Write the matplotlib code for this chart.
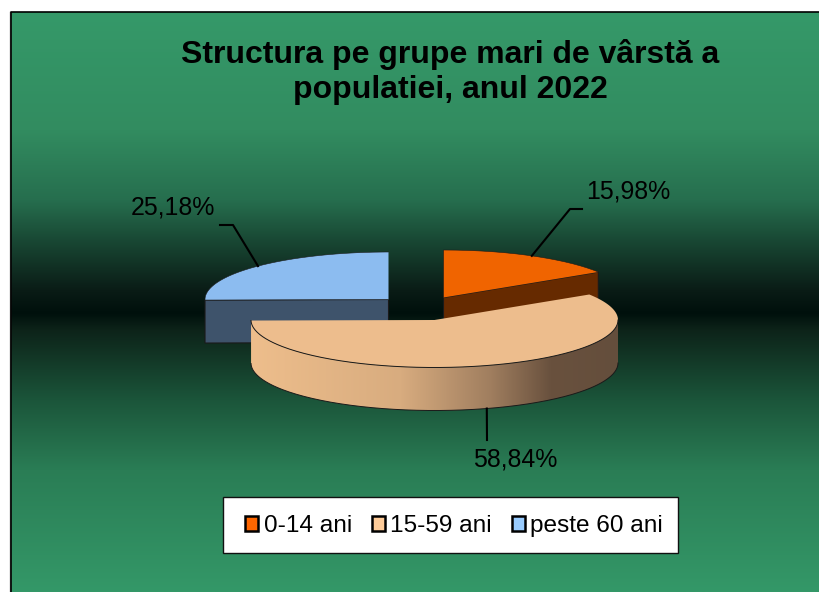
"""
Structura populatiei pe grupe de varsta - pie 3D
"""

import numpy as np
import matplotlib
matplotlib.use("Agg")
import matplotlib.pyplot as plt
from matplotlib.patches import Patch, PathPatch, Polygon, Rectangle
from matplotlib.path import Path

categories = ["0-14 ani", "15-59 ani", "peste 60 ani"]
values = [15.98, 58.84, 25.18]
title = "Structura pe grupe mari de vârstă a\npopulatiei, anul 2022"

plt.rcParams["font.family"] = ["Liberation Sans", "DejaVu Sans"]

# Pie shape, in pixels of the picture
RX = 183.5
RY = 47.5
DEPTH = 43
CENTERS = [(443.5, 297.5), (434.5, 320.0), (388.5, 299.5)]
TOP_COLORS = ["#f06400", "#edbd8d", "#8cbcf0"]
SIDE_COLORS = ["#662a00", None, "#3e536b"]
LEGEND_COLORS = ["#ff6600", "#ffcc99", "#99ccff"]
LABEL_POS = [(628, 192), (515, 459), (173, 207)]
LEADER_BEND = [[(570, 209), (582, 209)], [(487, 440)], [(233, 225), (220, 225)]]
EDGE = "#1a1a1a"


def rim(center, t0, t1, drop=0):
    # points on the ellipse, t clockwise from the top, in degrees
    t = np.radians(np.linspace(t0, t1, 200))
    return np.column_stack([center[0] + RX * np.sin(t),
                            center[1] - RY * np.cos(t) + drop])


def draw_background(ax):
    stops_y = [12, 130, 200, 240, 290, 313, 330, 400, 470, 592]
    stops_r = [53, 50, 38, 25, 10, 0, 13, 27, 42, 52]
    stops_g = [153, 140, 110, 72, 28, 16, 35, 85, 125, 152]
    stops_b = [105, 96, 78, 52, 22, 12, 25, 58, 85, 104]
    ys = np.arange(12, 593)
    grad = np.column_stack([np.interp(ys, stops_y, stops_r),
                            np.interp(ys, stops_y, stops_g),
                            np.interp(ys, stops_y, stops_b)]) / 255
    ax.imshow(grad[:, np.newaxis, :], extent=(10, 819, 592, 12),
              aspect="auto", zorder=0)
    ax.plot([9.5, 9.5], [592, 12], color="#888888", lw=1.0, zorder=1)
    ax.plot([10.5, 10.5, 819], [592, 12, 12], color="black", lw=1.2, zorder=1)


def draw_peach_side(ax, center, t0, t1):
    front = np.linspace(max(t0, 90), t1, 200)
    upper = rim(center, front[0], front[-1])
    lower = rim(center, front[0], front[-1], DEPTH)
    pts = np.vstack([upper, lower[::-1]])
    stops_x = [250, 400, 490, 550, 618]
    stops_r = [238, 216, 160, 105, 100]
    stops_g = [190, 172, 126, 81, 78]
    stops_b = [140, 127, 95, 62, 60]
    xs = np.arange(250, 620)
    grad = np.column_stack([np.interp(xs, stops_x, stops_r),
                            np.interp(xs, stops_x, stops_g),
                            np.interp(xs, stops_x, stops_b)]) / 255
    im = ax.imshow(grad[np.newaxis, :, :], extent=(250, 620, 420, 300),
                   aspect="auto", zorder=3)
    clip = PathPatch(Path(np.vstack([pts, pts[:1]])), transform=ax.transData)
    im.set_clip_path(clip)
    ax.plot(lower[:, 0], lower[:, 1], color=EDGE, lw=0.7, zorder=3)


def draw_flat_side(ax, center, t1, color, z):
    # cut face from the rim end to the apex, pushed down by the depth
    end = rim(center, t1, t1)[0]
    pts = [end, center, (center[0], center[1] + DEPTH), (end[0], end[1] + DEPTH)]
    ax.add_patch(Polygon(pts, closed=True, fc=color, ec=EDGE, lw=0.8, zorder=z))


def main():
    fig = plt.figure(figsize=(8.19, 5.92), dpi=100, facecolor="white")
    ax = fig.add_axes([0, 0, 1, 1])
    draw_background(ax)

    # Slices run clockwise from the top
    starts = np.cumsum([0] + values[:-1]) * 3.6
    ends = np.cumsum(values) * 3.6

    for i, (t0, t1) in enumerate(zip(starts, ends)):
        center = CENTERS[i]
        z = 3 if i == 1 else 2
        if i == 1:
            draw_peach_side(ax, center, t0, t1)
        else:
            draw_flat_side(ax, center, t1 if i == 0 else t0, SIDE_COLORS[i], z)
        top = np.vstack([center, rim(center, t0, t1)])
        ax.add_patch(Polygon(top, closed=True, fc=TOP_COLORS[i], ec="none", zorder=z))
        if i == 1:
            # only the front of the peach top has a dark line
            arc = rim(center, 90, t1)
            ax.plot(arc[:, 0], arc[:, 1], color=EDGE, lw=0.7, zorder=z)
        else:
            ax.plot(top[:, 0], top[:, 1], color=EDGE, lw=0.4, zorder=z)

        # Leader line starts on the middle of the slice rim
        mid = (t0 + t1) / 2
        drop = DEPTH if i == 1 else 0
        start = rim(center, mid, mid, drop)[0]
        line = np.vstack([start, LEADER_BEND[i]])
        ax.plot(line[:, 0], line[:, 1], color="black", lw=1.5, zorder=4)
        label = f"{values[i]:.2f}".replace(".", ",") + "%"
        ax.text(LABEL_POS[i][0], LABEL_POS[i][1], label, fontsize=17.9,
                ha="center", va="center", color="black", zorder=5)

    ax.text(450, 72, title, fontsize=23, fontweight="bold", ha="center",
            va="center", linespacing=1.25, zorder=5)

    # Legend box
    ax.add_patch(Rectangle((223, 497), 455, 56, fc="white", ec="#111111",
                           lw=1.0, zorder=6))
    handles = [Patch(fc=c, ec="black", lw=1.8) for c in LEGEND_COLORS]
    leg = ax.legend(handles, categories, loc="center left",
                    bbox_to_anchor=(245, 526), bbox_transform=ax.transData,
                    ncol=3, fontsize=17.6, frameon=False,
                    handlelength=0.55, handleheight=0.55, handletextpad=0.22,
                    columnspacing=0.8, borderpad=0, borderaxespad=0)
    leg.set_zorder(7)

    ax.set_xlim(0, 819)
    ax.set_ylim(592, 0)
    ax.axis("off")
    fig.savefig("out.png", dpi=100, facecolor="white")


if __name__ == "__main__":
    main()
